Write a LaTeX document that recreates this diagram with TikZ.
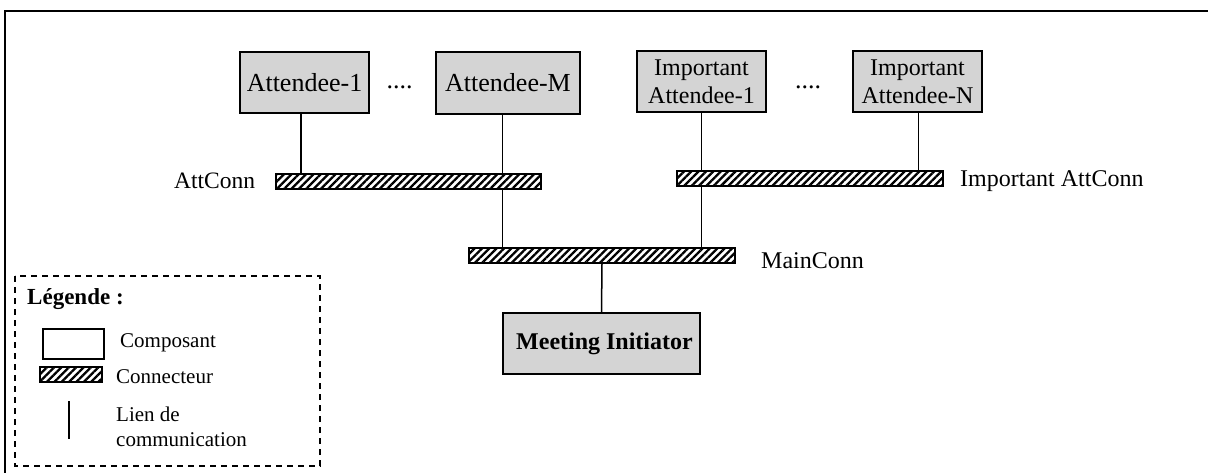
\documentclass[tikz,border=0pt]{standalone}
\usepackage{fontspec}
\setmainfont{Liberation Serif}
\usetikzlibrary{patterns.meta,calc}
\definecolor{boxgray}{RGB}{212,212,212}
\tikzset{
  comp/.style={draw=black, line width=2pt, fill=boxgray, rectangle, inner sep=0pt, align=center},
  conn/.style={draw=black, line width=1.6pt, rectangle, inner sep=0pt, minimum height=15pt,
    pattern={Lines[angle=45,distance=5.2pt,line width=2.3pt]}, pattern color=black},
  link/.style={line width=1.5pt},
  lbl/.style={inner sep=0pt, anchor=base west},
  bigtxt/.style={font=\fontsize{26}{29}\selectfont},
  midtxt/.style={font=\fontsize{24}{27.6}\selectfont},
  legtxt/.style={font=\fontsize{21}{25}\selectfont},
}
\begin{document}
\begin{tikzpicture}[x=1pt,y=-1pt]
\useasboundingbox (0,0) rectangle (1208,473);
% outer frame
\draw[line width=2pt] (5,474) -- (5,11) -- (1209,11);

% components
\node[comp, bigtxt, minimum width=129pt, minimum height=61pt] (att1) at (304.5,82.5) {Attendee-1};
\node[comp, bigtxt, minimum width=144.5pt, minimum height=62pt] (attM) at (508,83) {Attendee-M};
\node[comp, midtxt, minimum width=129pt, minimum height=61pt] (imp1) at (701.5,81.5) {Important\\Attendee-1};
\node[comp, midtxt, minimum width=129pt, minimum height=61pt] (impN) at (917.5,81.5) {Important\\Attendee-N};
\node[comp, minimum width=197pt, minimum height=61pt, font=\fontsize{24}{27}\selectfont\bfseries] (mi) at (601.5,343.5) {\hspace{6pt}Meeting Initiator};

\node[bigtxt, inner sep=0pt, anchor=base] (dots1) at (399.5,89) {....};
\node[bigtxt, inner sep=0pt, anchor=base] (dots2) at (808,89) {....};

% connectors
\node[conn, minimum width=265pt] (attconn) at (408.5,181.5) {};
\node[conn, minimum width=265.5pt] (impconn) at (810,178.5) {};
\node[conn, minimum width=266pt] (mainconn) at (602,255.5) {};

\node[lbl, font=\fontsize{23.5}{27}\selectfont] (lattconn) at (174,189) {AttConn};
\node[lbl, midtxt] (limpconn) at (960,187) {Important AttConn};
\node[lbl, midtxt] (lmainconn) at (761,269) {MainConn};

% links
\draw[link] ([xshift=-3.5pt]att1.south) -- ([xshift=-3.5pt]att1.south |- attconn.north);
\draw[link] ([xshift=-5.5pt]attM.south) -- ([xshift=-5.5pt]attM.south |- attconn.north);
\draw[link] ([xshift=-5.5pt]attM.south |- attconn.south) -- ([xshift=-5.5pt]attM.south |- mainconn.north);
\draw[link] (imp1.south) -- (imp1.south |- impconn.north);
\draw[link] (imp1.south |- impconn.south) -- (imp1.south |- mainconn.north);
\draw[link] ([xshift=1.2pt]impN.south) -- ([xshift=1.2pt]impN.south |- impconn.north);
\draw[link] (mainconn.south) -- (mi.north);

% legend
\draw[line width=1.5pt, dash pattern=on 6pt off 5pt] (15,276) rectangle (320,466);
\node[lbl, font=\fontsize{23}{27}\selectfont\bfseries] (legtitle) at (27,305) {Légende :};
\node[draw=black, line width=2pt, fill=white, rectangle, inner sep=0pt, minimum width=61pt, minimum height=30pt] (legcomp) at (73.5,344) {};
\node[lbl, legtxt] (lcomp) at (120,347) {Composant};
\node[conn, minimum width=62pt] (legconn) at (71,374.5) {};
\node[lbl, legtxt] (lconn) at (116,383) {Connecteur};
\coordinate (la) at (69,401);
\coordinate (lb) at (69,439);
\draw[link] (la) -- (lb);
\node[lbl, legtxt] (llien1) at (116,421) {Lien de};
\node[lbl, legtxt] (llien2) at (116,446) {communication};
\end{tikzpicture}
\end{document}
